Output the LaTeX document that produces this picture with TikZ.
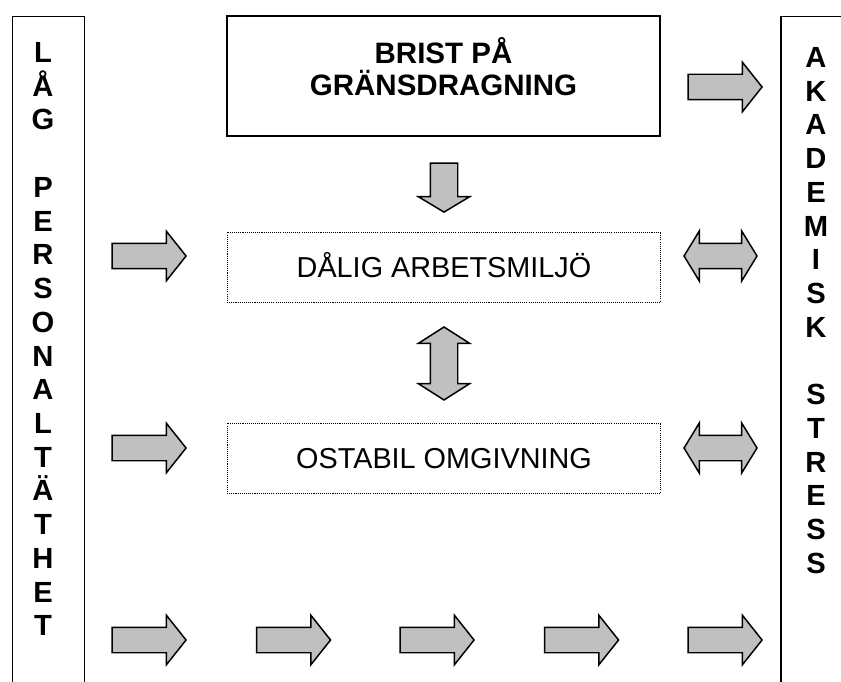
\documentclass[tikz,border=0pt]{standalone}
\usepackage{fontspec}
\setmainfont{Liberation Sans}
\usepackage{tikz}
\usetikzlibrary{shapes.arrows,positioning}
\definecolor{arrowgray}{HTML}{C0C0C0}

\begin{document}
\begin{tikzpicture}[x=0.02cm,y=-0.02cm,
  font=\fontsize{16.4pt}{18.2pt}\selectfont,
  frame/.style={draw,line width=0.85pt,inner sep=0pt},
  dotbox/.style={draw,line width=0.55pt,dash pattern=on 0.6pt off 0.6pt,minimum width=8.68cm,minimum height=1.4cm,text height=11.7pt,text depth=0pt},
  blockarrow/.style={single arrow,draw,fill=arrowgray,line width=0.85pt,inner sep=0.24cm,single arrow head extend=0.24cm,single arrow tip angle=103,minimum width=0.96cm,minimum height=1.48cm},
  twoway/.style={double arrow,draw,fill=arrowgray,line width=0.85pt,inner sep=0.24cm,double arrow head extend=0.25cm,double arrow tip angle=117,minimum width=0.98cm,minimum height=1.46cm},
  column/.style={font=\bfseries\fontsize{16.6pt}{19.2pt}\selectfont,align=center,inner sep=0pt,anchor=north}]
  \useasboundingbox (0,0) rectangle (841,682);
  \clip (0,0) rectangle (841,682);
  % side columns
  \node[frame,minimum width=1.44cm,minimum height=14cm,anchor=north west] (lowstaff) at (12,16) {};
  \node[column] (lowtext) at (43,42) {L\\Å\\G\\[19.2pt]P\\E\\R\\S\\O\\N\\A\\L\\T\\Ä\\T\\H\\E\\T};
  \node[frame,minimum width=2cm,minimum height=14cm,anchor=north west] (stress) at (780,16) {};
  \node[column] (stresstext) at (816,47) {A\\K\\A\\D\\E\\M\\I\\S\\K\\[19.2pt]S\\T\\R\\E\\S\\S};
  % middle boxes
  \node[frame,minimum width=8.66cm,minimum height=2.4cm] (brist) at (443.5,76) {};
  \node[font=\bfseries\fontsize{16.8pt}{18.2pt}\selectfont,align=center] (bristtext) at (443.5,67) {BRIST PÅ\\GRÄNSDRAGNING};
  \node[dotbox] (dalig) at (444,267) {DÅLIG ARBETSMILJÖ};
  \node[dotbox] (ostabil) at (444,458) {OSTABIL OMGIVNING};
  % block arrows
  \node[blockarrow] (toparrow) at (720,87) {};
  \node[blockarrow,shape border rotate=270,minimum height=0.98cm,minimum width=1cm,inner sep=0.26cm,single arrow tip angle=118] (downarrow) at (444,183.5) {};
  \node[twoway,shape border rotate=90,minimum width=1cm,inner sep=0.26cm,double arrow head extend=0.24cm,double arrow tip angle=115] (updown) at (444,363.5) {};
  \node[blockarrow] (leftone) at (144,256) {};
  \node[blockarrow] (lefttwo) at (144,448) {};
  \node[twoway] (rightone) at (720.5,256) {};
  \node[twoway] (righttwo) at (720.5,448) {};
  \foreach \x [count=\i] in {144,288.5,432,576.5,720}
    \node[blockarrow] (bottom\i) at (\x,640) {};
\end{tikzpicture}
\end{document}
